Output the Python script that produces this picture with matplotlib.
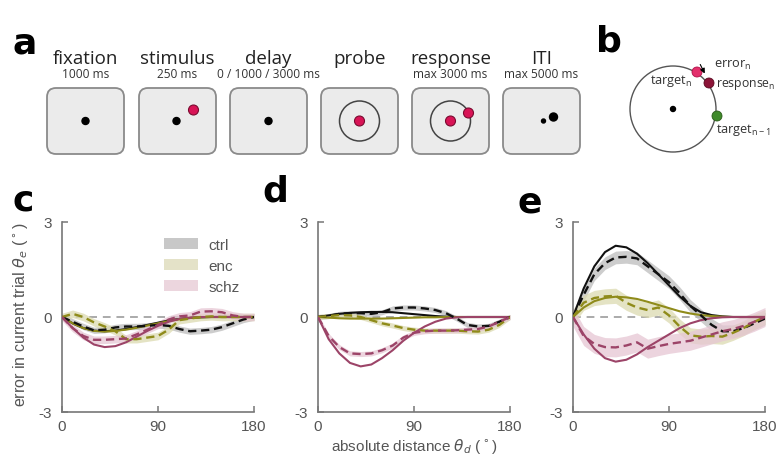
import matplotlib
matplotlib.use("Agg")
import matplotlib.pyplot as plt
from matplotlib.patches import FancyBboxPatch, Circle, Patch

# ---- panel a: trial sequence ----
stage_names = ["fixation", "stimulus", "delay", "probe", "response", "ITI"]
stage_times = ["1000 ms", "250 ms", "0 / 1000 / 3000 ms", "", "max 3000 ms", "max 5000 ms"]

# ---- panels c-e: serial bias curves ----
theta_d = [0, 10, 20, 30, 40, 50, 60, 70, 80, 90, 100, 110, 120, 130, 140, 150, 160, 170, 180]
groups = ["ctrl", "enc", "schz"]

c_ctrl_fit = [0, -0.2, -0.35, -0.43, -0.45, -0.43, -0.38, -0.32, -0.25, -0.18, -0.11, -0.06, -0.03, -0.01, 0, 0, 0, 0, 0]
c_ctrl_data = [0, -0.15, -0.3, -0.42, -0.4, -0.33, -0.3, -0.3, -0.28, -0.25, -0.28, -0.38, -0.45, -0.43, -0.4, -0.32, -0.2, -0.08, 0]
c_enc_fit = [0, -0.2, -0.35, -0.44, -0.46, -0.44, -0.4, -0.34, -0.27, -0.2, -0.13, -0.07, -0.03, -0.01, 0, 0, 0, 0, 0]
c_enc_data = [0, 0.1, 0.0, -0.17, -0.3, -0.45, -0.7, -0.7, -0.65, -0.6, -0.4, -0.1, -0.05, 0.0, 0.02, 0.0, 0.0, 0.0, 0]
c_schz_fit = [0, -0.35, -0.65, -0.87, -0.95, -0.92, -0.8, -0.62, -0.44, -0.28, -0.15, -0.06, -0.02, 0, 0, 0, 0, 0, 0]
c_schz_data = [0, -0.35, -0.6, -0.72, -0.72, -0.7, -0.68, -0.55, -0.4, -0.25, -0.08, 0.02, 0.05, 0.17, 0.18, 0.15, 0.05, 0.0, 0]
c_sem = [0.1, 0.12, 0.12]

d_ctrl_fit = [0, 0.05, 0.1, 0.13, 0.15, 0.16, 0.16, 0.15, 0.12, 0.09, 0.06, 0.03, 0.01, 0, 0, 0, 0, 0, 0]
d_ctrl_data = [0, 0.03, 0.1, 0.12, 0.12, 0.1, 0.15, 0.27, 0.3, 0.3, 0.27, 0.22, 0.12, -0.05, -0.25, -0.3, -0.28, -0.15, 0]
d_enc_fit = [0, -0.02, -0.04, -0.05, -0.05, -0.05, -0.05, -0.04, -0.03, -0.02, -0.01, -0.01, 0, 0, 0, 0, 0, 0, 0]
d_enc_data = [0, 0.03, 0.06, 0.05, 0.0, -0.1, -0.2, -0.27, -0.35, -0.4, -0.43, -0.43, -0.43, -0.43, -0.45, -0.46, -0.4, -0.25, 0]
d_schz_fit = [0, -0.7, -1.15, -1.45, -1.56, -1.5, -1.3, -1.05, -0.75, -0.5, -0.3, -0.15, -0.05, -0.01, 0, 0, 0, 0, 0]
d_schz_data = [0, -0.6, -0.95, -1.15, -1.17, -1.15, -1.05, -0.9, -0.65, -0.5, -0.45, -0.43, -0.43, -0.42, -0.4, -0.38, -0.3, -0.15, 0]
d_sem = [0.08, 0.08, 0.08]

e_ctrl_fit = [0, 0.9, 1.6, 2.05, 2.25, 2.2, 2.0, 1.7, 1.35, 1.0, 0.65, 0.35, 0.15, 0.06, 0.02, 0, 0, 0, 0]
e_ctrl_data = [0, 0.7, 1.35, 1.7, 1.88, 1.9, 1.85, 1.6, 1.35, 1.1, 0.75, 0.35, 0.05, -0.25, -0.45, -0.45, -0.35, -0.2, -0.05]
e_enc_fit = [0, 0.3, 0.5, 0.6, 0.64, 0.62, 0.57, 0.48, 0.38, 0.28, 0.18, 0.11, 0.06, 0.03, 0.01, 0, 0, 0, 0]
e_enc_data = [0, 0.45, 0.6, 0.65, 0.67, 0.45, 0.3, 0.22, 0.3, 0.05, -0.3, -0.58, -0.62, -0.6, -0.62, -0.5, -0.35, -0.15, 0.0]
e_schz_fit = [0, -0.55, -1.0, -1.3, -1.41, -1.35, -1.18, -0.95, -0.75, -0.55, -0.35, -0.2, -0.1, -0.04, -0.01, 0, 0, 0, 0]
e_schz_data = [0, -0.6, -0.85, -0.95, -0.96, -0.9, -0.8, -1.0, -0.92, -0.85, -0.8, -0.75, -0.65, -0.55, -0.45, -0.38, -0.28, -0.15, 0.0]
e_sem = [0.2, 0.24, 0.3]

line_colors = {"ctrl": "#111111", "enc": "#8f8b1a", "schz": "#9c4468"}
band_colors = {"ctrl": "#bdbdbd", "enc": "#dcdab0", "schz": "#e6c6d3"}
legend_colors = {"ctrl": "#c8c8c8", "enc": "#e4e2c8", "schz": "#ecd6de"}

panels = {
    "c": ({"ctrl": (c_ctrl_fit, c_ctrl_data), "enc": (c_enc_fit, c_enc_data),
           "schz": (c_schz_fit, c_schz_data)}, c_sem),
    "d": ({"ctrl": (d_ctrl_fit, d_ctrl_data), "enc": (d_enc_fit, d_enc_data),
           "schz": (d_schz_fit, d_schz_data)}, d_sem),
    "e": ({"ctrl": (e_ctrl_fit, e_ctrl_data), "enc": (e_enc_fit, e_enc_data),
           "schz": (e_schz_fit, e_schz_data)}, e_sem),
}

W, H = 778, 456
fig = plt.figure(figsize=(W / 100, H / 100), dpi=100)

# background axes in pixel coordinates for the schematics
bg = fig.add_axes([0, 0, 1, 1])
bg.set_xlim(0, W)
bg.set_ylim(H, 0)
bg.axis("off")

pink = "#d81456"
box_left = [47, 139, 230, 321, 412, 503]
box_w, box_h, box_top = 77, 66, 89
for i, (name, t) in enumerate(zip(stage_names, stage_times)):
    x0 = box_left[i]
    cx, cy = x0 + box_w / 2, box_top + box_h / 2
    bg.add_patch(FancyBboxPatch((x0, box_top), box_w, box_h,
                                boxstyle="round,pad=0,rounding_size=9",
                                fc="#ebebeb", ec="#8a8a8a", lw=1.3))
    bg.text(cx, 59, name, ha="center", va="center", fontsize=13.5,
            family="Open Sans", color="#222222")
    if t:
        bg.text(cx, 74.5, t, ha="center", va="center", fontsize=8.6,
                family="Open Sans", color="#333333")
    if name in ("fixation", "delay"):
        bg.add_patch(Circle((cx, cy), 3.5, color="black"))
    elif name == "stimulus":
        bg.add_patch(Circle((cx - 1, cy), 3.5, color="black"))
        bg.add_patch(Circle((cx + 16, cy - 11), 5, fc=pink, ec="#7a0a30", lw=0.8))
    elif name == "probe":
        bg.add_patch(Circle((cx, cy), 20, fill=False, ec="#444444", lw=1.1))
        bg.add_patch(Circle((cx, cy), 5, fc=pink, ec="#7a0a30", lw=0.8))
    elif name == "response":
        bg.add_patch(Circle((cx, cy), 20, fill=False, ec="#444444", lw=1.1))
        bg.add_patch(Circle((cx, cy), 5, fc=pink, ec="#7a0a30", lw=0.8))
        bg.add_patch(Circle((cx + 18, cy - 8), 5, fc=pink, ec="#7a0a30", lw=0.8))
    elif name == "ITI":
        bg.add_patch(Circle((cx + 12, cy - 4), 4, color="black"))
        bg.add_patch(Circle((cx + 2, cy), 2, color="black"))

# panel b: circle schematic
bcx, bcy, br = 673, 110, 43
bg.add_patch(Circle((bcx, bcy), br, fill=False, ec="#555555", lw=1.0))
bg.add_patch(Circle((bcx, bcy), 2.5, color="black"))
bg.add_patch(Circle((697, 73), 5, fc="#e3306c", ec="#b01048", lw=0.6))
bg.add_patch(Circle((709, 84), 5, fc="#8c1438", ec="#5a0a20", lw=0.6))
bg.add_patch(Circle((717, 117), 5, fc="#3f8a2a", ec="#2a5a1a", lw=0.6))
bkw = dict(va="center", fontsize=9.2, family="Open Sans", color="#333333")
bg.text(692, 81, r"target$_\mathregular{n}$", ha="right", **bkw)
bg.text(714, 65, r"error$_\mathregular{n}$", ha="left", **bkw)
bg.text(716, 85, r"response$_\mathregular{n}$", ha="left", fontsize=8.8,
        va="center", family="Open Sans", color="#333333")
bg.text(716, 130, r"target$_\mathregular{n-1}$", ha="left", **bkw)
bg.annotate("", xy=(706, 77), xytext=(699, 63),
            arrowprops=dict(arrowstyle="-|>", color="black", lw=0.8, mutation_scale=7))

# panel letters
for letter, (lx, ly) in {"a": (13, 44), "b": (596, 41), "c": (13, 201),
                         "d": (262, 192), "e": (518, 203)}.items():
    bg.text(lx, ly, letter, ha="left", va="center", fontsize=26,
            fontweight="bold", family="DejaVu Sans", color="black")

# ---- curve panels ----
ax_left = [62, 318, 573]
ax_w, ax_top, ax_bot = 192, 223, 413
tick_col = "#555555"
for i, (key, (curves, sem)) in enumerate(panels.items()):
    ax = fig.add_axes([ax_left[i] / W, 1 - ax_bot / H, ax_w / W, (ax_bot - ax_top) / H])
    ax.set_facecolor("none")
    ax.axhline(0, color="#aaaaaa", ls=(0, (4, 3)), lw=1.4, zorder=1)
    for j, g in enumerate(groups):
        fit, data = curves[g]
        lo = [v - sem[j] for v in data]
        hi = [v + sem[j] for v in data]
        ax.fill_between(theta_d, lo, hi, color=band_colors[g], alpha=0.75, lw=0, zorder=2)
    for j, g in enumerate(groups):
        fit, data = curves[g]
        ax.plot(theta_d, fit, color=line_colors[g], lw=1.5, zorder=4)
        ax.plot(theta_d, data, color=line_colors[g], lw=1.7, ls=(0, (3.5, 2)), zorder=5)
    ax.set_xlim(0, 180)
    ax.set_ylim(-3, 3)
    ax.set_xticks([0, 90, 180])
    ax.set_yticks([-3, 0, 3])
    ax.set_yticklabels(["-3", "0", "3"])
    for s in ("top", "right"):
        ax.spines[s].set_visible(False)
    for s in ("left", "bottom"):
        ax.spines[s].set_color("#777777")
        ax.spines[s].set_linewidth(1.2)
    ax.tick_params(direction="in", length=4, width=1.1, color="#777777",
                   labelcolor=tick_col, labelsize=11, pad=7)
    ax.tick_params(axis="x", pad=5)
    for lab in ax.get_xticklabels() + ax.get_yticklabels():
        lab.set_family("Liberation Sans")
    if key == "c":
        ax.set_ylabel(r"error in current trial $\theta_e$ ($^\circ$)", fontsize=11.5,
                      color=tick_col, family="Liberation Sans")
        ax.yaxis.set_label_coords(-0.165, 0.52)
        handles = [Patch(fc=legend_colors[g], ec="none") for g in groups]
        ax.legend(handles, groups, loc="upper left", bbox_to_anchor=(0.458, 0.99),
                  frameon=False, handlelength=2.25, handleheight=0.8,
                  handletextpad=0.7, labelspacing=0.45, labelcolor=tick_col,
                  prop={"family": "Liberation Sans", "size": 11})
    if key == "d":
        ax.set_xlabel(r"absolute distance $\theta_d$ ($^\circ$)", fontsize=11,
                      color=tick_col, family="Liberation Sans")
        ax.xaxis.set_label_coords(0.5, -0.125)

fig.savefig("out.png", dpi=100)
